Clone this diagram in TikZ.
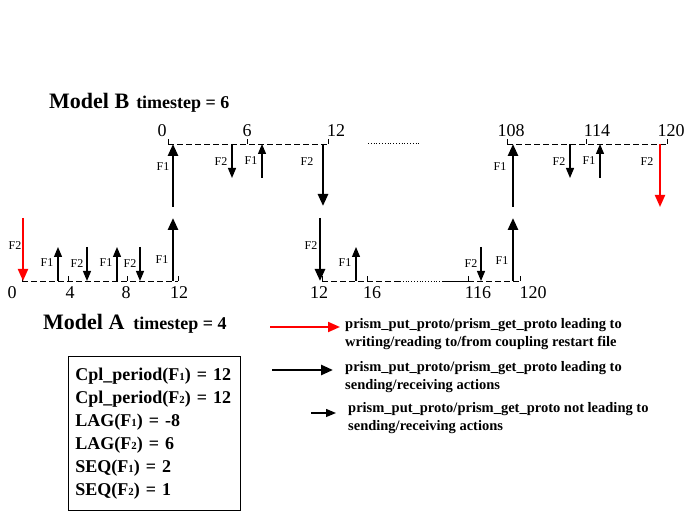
\documentclass[tikz,border=0pt]{standalone}
\usepackage{fontspec}
\setmainfont{Liberation Serif}
\usetikzlibrary{arrows.meta}
\newcommand{\fsub}[1]{F\scalebox{0.6}{#1}}

\begin{document}
\begin{tikzpicture}[x=1pt, y=-1pt,
    timeline/.style={line width=0.9pt, dash pattern=on 6pt off 3pt},
    tickmark/.style={line width=0.9pt},
    bigarrow/.style={line width=2.6pt, -{Triangle[width=10pt,length=12pt]}},
    smallarrow/.style={line width=1.2pt, -{Triangle[width=8pt,length=10pt]}},
    flabel/.style={font=\fontsize{12}{12}\selectfont, inner sep=0pt},
    ticklabel/.style={font=\fontsize{18}{18}\selectfont, inner sep=0pt},
    legendtext/.style={font=\bfseries\fontsize{14.5}{18}\selectfont, align=left, anchor=west, inner sep=0pt}]
    \useasboundingbox (0,0) rectangle (691,518);

    % Titles
    \node[anchor=base west, inner sep=0pt] (titleB) at (49,109)
        {\bfseries{\fontsize{22}{22}\selectfont Model B}\hspace{7pt}{\fontsize{18}{18}\selectfont timestep = 6}};
    \node[anchor=base west, inner sep=0pt] (titleA) at (43,330)
        {\bfseries{\fontsize{22}{22}\selectfont Model A}\hspace{9pt}{\fontsize{18}{18}\selectfont timestep = 4}};

    % Model B time axis
    \draw[timeline] (168,144) -- (328,144);
    \draw[dotted, line width=0.8pt] (368,143) -- (420,143);
    \draw[timeline] (507,144) -- (667,144);
    \foreach \x in {168, 247, 328, 507, 586, 667}
        \draw[tickmark] (\x,144) -- (\x,139);
    \node[ticklabel] (tB0) at (162,131) {0};
    \node[ticklabel] (tB6) at (247,131) {6};
    \node[ticklabel] (tB12) at (336,131) {12};
    \node[ticklabel] (tB108) at (511,131) {108};
    \node[ticklabel] (tB114) at (597,131) {114};
    \node[ticklabel] (tB120) at (671,131) {120};

    % Model A time axis
    \draw[timeline] (22,281) -- (178,281);
    \draw[timeline] (322,281) -- (400,281);
    \draw[dotted, line width=0.8pt] (400,281) -- (443,281);
    \draw[line width=0.9pt] (443,281) -- (468,281);
    \draw[timeline] (468,281) -- (520,281);
    \foreach \x in {22, 68, 127, 178, 322, 367, 468, 520}
        \draw[tickmark] (\x,281) -- (\x,276);
    \node[ticklabel] (tA0) at (12,293) {0};
    \node[ticklabel] (tA4) at (70,293) {4};
    \node[ticklabel] (tA8) at (126,293) {8};
    \node[ticklabel] (tA12) at (179,293) {12};
    \node[ticklabel] (tA12b) at (319,293) {12};
    \node[ticklabel] (tA16) at (372,293) {16};
    \node[ticklabel] (tA116) at (478,293) {116};
    \node[ticklabel] (tA120) at (533,293) {120};

    % F1 sent by A at 12 and 120, received by B at 0 and 108
    \foreach \x/\n in {173/a, 513/b} {
        \coordinate (Asrc\n) at (\x,281);
        \coordinate (Adst\n) at (\x,218);
        \draw[bigarrow] (Asrc\n) -- (Adst\n);
        \coordinate (Bsrc\n) at (\x,207);
        \coordinate (Bdst\n) at (\x,144);
        \draw[bigarrow] (Bsrc\n) -- (Bdst\n);
    }
    \node[flabel] (lA1a) at (162,260) {F1};
    \node[flabel] (lA1b) at (502,261) {F1};
    \node[flabel] (lB1a) at (163,167) {F1};
    \node[flabel] (lB1b) at (500,167) {F1};

    % F2 sent by B at 12, received by A at 12
    \coordinate (BsrcF2) at (323,144);
    \coordinate (BdstF2) at (323,206);
    \draw[bigarrow] (BsrcF2) -- (BdstF2);
    \node[flabel] (lB2) at (307,162) {F2};
    \coordinate (AsrcF2) at (320,218);
    \coordinate (AdstF2) at (320,281);
    \draw[bigarrow] (AsrcF2) -- (AdstF2);
    \node[flabel] (lA2) at (311,246) {F2};

    % F2 read from / written to restart file
    \coordinate (AsrcR) at (23,218);
    \coordinate (AdstR) at (23,281);
    \draw[bigarrow, red, line width=2pt] (AsrcR) -- (AdstR);
    \node[flabel] (lAR) at (15,246) {F2};
    \coordinate (BsrcR) at (660,144);
    \coordinate (BdstR) at (660,207);
    \draw[bigarrow, red, line width=2pt] (BsrcR) -- (BdstR);
    \node[flabel] (lBR) at (647,162) {F2};

    % Model A, other F1 and F2 (no exchange)
    \foreach \x/\n in {58/a, 117/b, 356/c} {
        \coordinate (up\n) at (\x,281);
        \coordinate (upend\n) at (\x,247);
        \draw[smallarrow] (up\n) -- (upend\n);
        \node[flabel] (lup\n) at (\x-11,263) {F1};
    }
    \foreach \x/\n in {87/a, 140/b, 481/c} {
        \coordinate (dn\n) at (\x,247);
        \coordinate (dnend\n) at (\x,281);
        \draw[smallarrow] (dn\n) -- (dnend\n);
        \node[flabel] (ldn\n) at (\x-10,264) {F2};
    }

    % Model B, other F1 and F2 (no exchange)
    \foreach \x/\n in {262/a, 600/b} {
        \coordinate (Bup\n) at (\x,178);
        \coordinate (Bupend\n) at (\x,144);
        \draw[smallarrow] (Bup\n) -- (Bupend\n);
        \node[flabel] (lBup\n) at (\x-11,161) {F1};
    }
    \foreach \x/\n in {232/a, 570/b} {
        \coordinate (Bdn\n) at (\x,144);
        \coordinate (Bdnend\n) at (\x,178);
        \draw[smallarrow] (Bdn\n) -- (Bdnend\n);
        \node[flabel] (lBdn\n) at (\x-11,162) {F2};
    }

    % Legend
    \coordinate (leg1s) at (270,327);
    \coordinate (leg1e) at (340,327);
    \draw[bigarrow, red, line width=2pt] (leg1s) -- (leg1e);
    \node[legendtext] (leg1) at (345,334)
        {prism\_put\_proto/prism\_get\_proto leading to\\writing/reading to/from coupling restart file};
    \coordinate (leg2s) at (272,370);
    \coordinate (leg2e) at (333,370);
    \draw[bigarrow] (leg2s) -- (leg2e);
    \node[legendtext] (leg2) at (345,377)
        {prism\_put\_proto/prism\_get\_proto leading to\\sending/receiving actions};
    \coordinate (leg3s) at (311,413);
    \coordinate (leg3e) at (336,413);
    \draw[smallarrow] (leg3s) -- (leg3e);
    \node[legendtext] (leg3) at (348,418)
        {prism\_put\_proto/prism\_get\_proto not leading to\\sending/receiving actions};

    % Coupling parameters
    \node[draw, line width=0.9pt, anchor=north west, minimum width=172pt, minimum height=154pt,
          text width=158pt, align=left, inner sep=6pt,
          font=\bfseries\fontsize{18}{23}\selectfont] (params) at (68,356)
        {Cpl\_period(\fsub{1}) = 12\\Cpl\_period(\fsub{2}) = 12\\LAG(\fsub{1}) = -8\\LAG(\fsub{2}) = 6\\SEQ(\fsub{1}) = 2\\SEQ(\fsub{2}) = 1};
\end{tikzpicture}
\end{document}
